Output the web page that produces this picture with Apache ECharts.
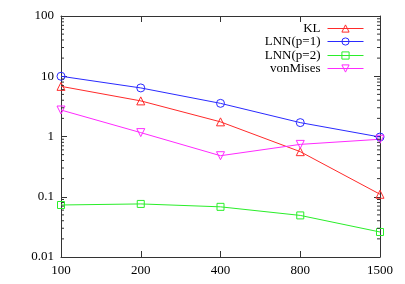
<!DOCTYPE html>
<html><head><meta charset="utf-8">
<script src="https://cdn.jsdelivr.net/npm/echarts@6/dist/echarts.min.js"></script>
<style>html,body{margin:0;padding:0;background:#fff}#c{width:405px;height:284px}</style>
</head><body><div id="c"></div>
<script>
var categories = ['100', '200', '400', '800', '1500'];
var seriesNames = ['KL', 'LNN(p=1)', 'LNN(p=2)', 'vonMises'];
var klValues = [6.8, 3.9, 1.75, 0.56, 0.11];
var lnn1Values = [10.0, 6.4, 3.55, 1.7, 0.98];
var lnn2Values = [0.073, 0.076, 0.068, 0.049, 0.026];
var vonMisesValues = [2.75, 1.16, 0.48, 0.74, 0.9];
var yTickValues = [0.01, 0.1, 1, 10, 100];

var minorTicks = [];
for (var k = 0; k < yTickValues.length - 1; k++) {
  for (var m = 2; m <= 9; m++) minorTicks.push(+(m * yTickValues[k]).toPrecision(3));
}

var font = 'Liberation Serif';
var axisColor = '#333';
var colors = ['#ff2a2a', '#2a2aff', '#2aee2a', '#ff2aff'];
var symbols = ['triangle', 'circle', 'rect', 'triangle'];
var rotates = [0, 0, 0, 180];
var sizes = [8, 8, 7, 8];
var allValues = [klValues, lnn1Values, lnn2Values, vonMisesValues];
var legendTops = [22, 35, 49, 62];

var chart = echarts.init(document.getElementById('c'), null, {renderer: 'canvas'});
var series = seriesNames.map(function (n, i) {
  return {
    name: n, type: 'line', data: allValues[i],
    symbol: symbols[i], symbolRotate: rotates[i], symbolSize: sizes[i],
    showAllSymbol: true,
    lineStyle: {color: colors[i], width: 1},
    itemStyle: {color: 'rgba(255,255,255,0)', borderColor: colors[i], borderWidth: 1},
    emphasis: {disabled: true},
    animation: false, z: 3
  };
});
series.push({
  type: 'custom', silent: true, animation: false, clip: false, z: 4,
  data: minorTicks.map(function (v) { return [0, v]; }),
  renderItem: function (params, api) {
    var v = api.value(1);
    var l = api.coord([0, v]);
    var r = api.coord([categories.length - 1, v]);
    var st = {stroke: axisColor, lineWidth: 1};
    return {type: 'group', children: [
      {type: 'line', shape: {x1: l[0], y1: l[1], x2: l[0] + 3, y2: l[1]}, style: st},
      {type: 'line', shape: {x1: r[0], y1: r[1], x2: r[0] - 3, y2: r[1]}, style: st}
    ]};
  }
});

var legends = seriesNames.map(function (n, i) {
  return {
    data: [{name: n, itemStyle: {color: 'rgba(255,255,255,0)', borderColor: colors[i], borderWidth: 1}}],
    orient: 'vertical', right: 41, top: legendTops[i],
    itemWidth: 36, itemHeight: 9, itemGap: 0, align: 'right',
    selectedMode: false,
    lineStyle: {width: 1},
    textStyle: {fontFamily: font, fontSize: 13, color: '#000', padding: [0, 2, 0, 0]},
    padding: 0
  };
});

chart.setOption({
  animation: false,
  backgroundColor: '#fff',
  grid: {left: 61, right: 25, top: 16, bottom: 27},
  legend: legends,
  xAxis: [{
    type: 'category', data: categories, boundaryGap: false,
    axisLine: {lineStyle: {color: axisColor, width: 1}},
    axisTick: {inside: true, length: 6, alignWithLabel: true, lineStyle: {color: axisColor}},
    axisLabel: {fontFamily: font, fontSize: 13, color: '#000', margin: 7},
    splitLine: {show: false}
  }, {
    type: 'category', data: categories, boundaryGap: false, position: 'top',
    axisLine: {lineStyle: {color: axisColor, width: 1}},
    axisTick: {inside: true, length: 6, lineStyle: {color: axisColor}},
    axisLabel: {show: false}, splitLine: {show: false}
  }],
  yAxis: [{
    type: 'log', logBase: 10, min: 0.01, max: 100,
    axisLine: {show: true, lineStyle: {color: axisColor, width: 1}},
    axisTick: {show: true, inside: true, length: 6, lineStyle: {color: axisColor}},
    axisLabel: {fontFamily: font, fontSize: 13, color: '#000', margin: 7,
      formatter: function (v) { return String(+v.toPrecision(3)); }},
    splitLine: {show: false}
  }, {
    type: 'log', logBase: 10, min: 0.01, max: 100, position: 'right',
    axisLine: {show: true, lineStyle: {color: axisColor, width: 1}},
    axisTick: {show: true, inside: true, length: 6, lineStyle: {color: axisColor}},
    axisLabel: {show: false}, splitLine: {show: false}
  }],
  series: series
});
</script></body></html>
